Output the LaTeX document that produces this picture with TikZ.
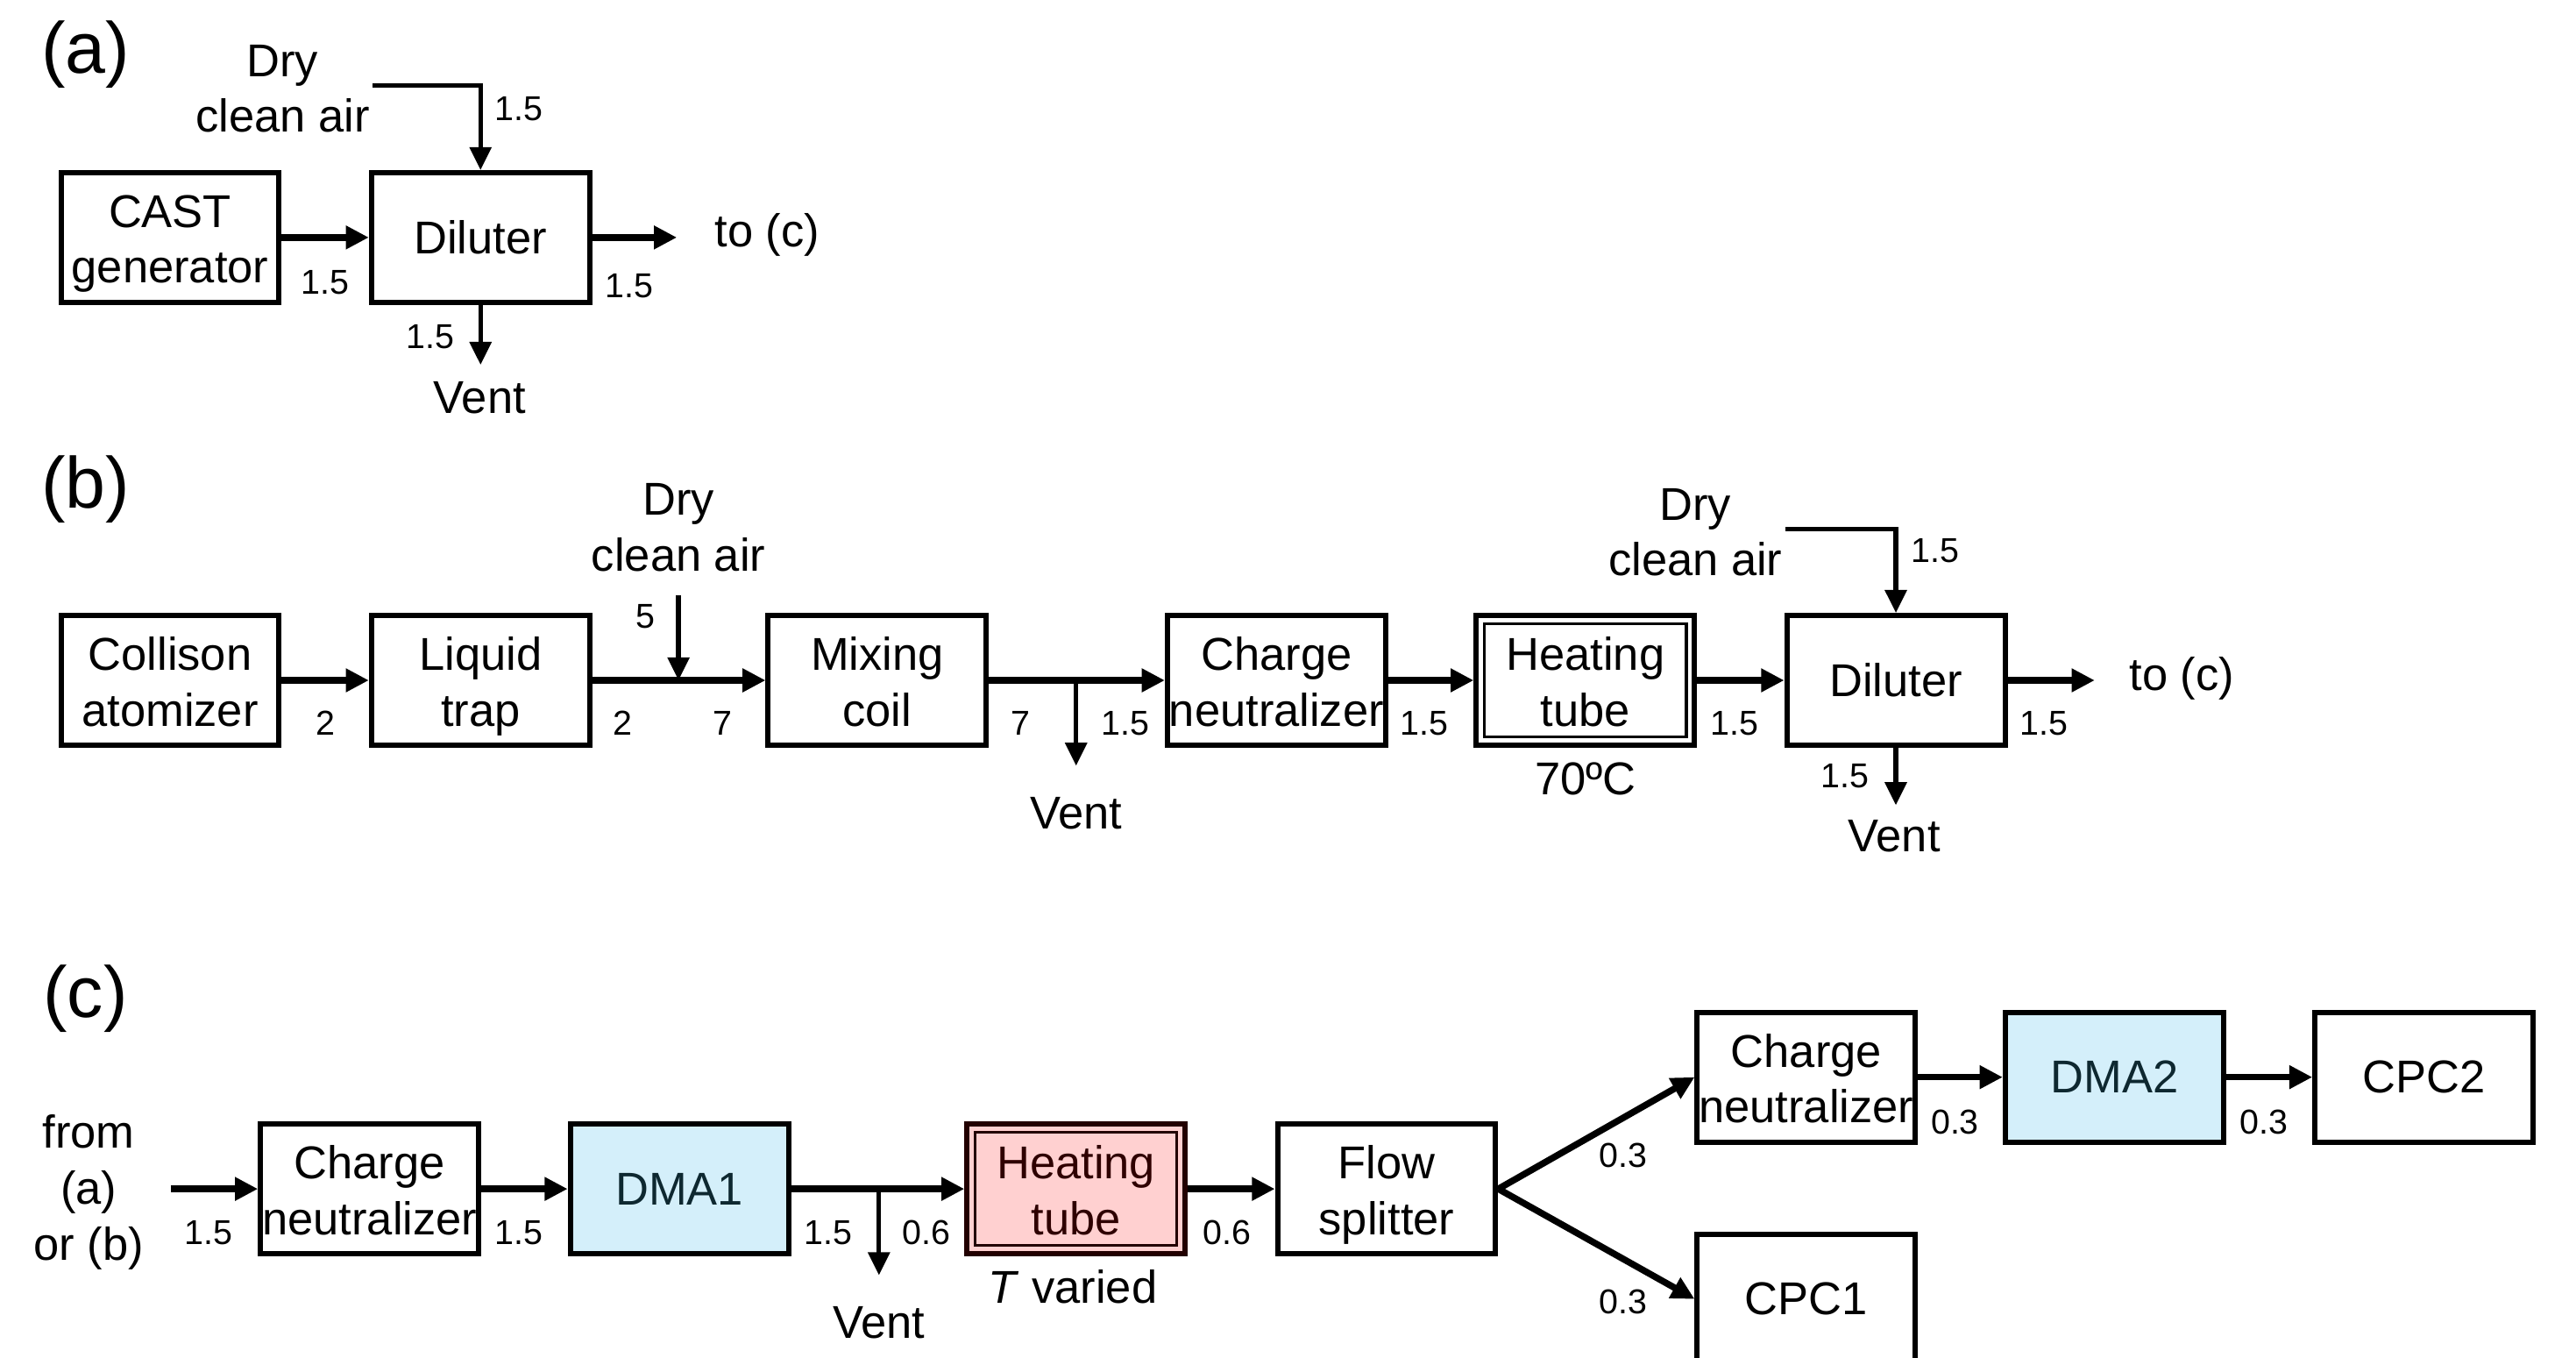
\documentclass[tikz,border=0pt]{standalone}
\usepackage{fontspec}
\setmainfont{Liberation Sans}
\usetikzlibrary{arrows.meta}
\newcommand{\fstr}{\rule[-5.1pt]{0pt}{21pt}}
\definecolor{dmablue}{HTML}{D4EFFA}
\definecolor{dmatext}{HTML}{0E2830}
\definecolor{heatfill}{HTML}{FFD0D0}
\definecolor{heatdraw}{HTML}{220000}
\definecolor{heattext}{HTML}{2E0000}
\tikzset{
  big/.style={font=\fontsize{14}{17}\selectfont, align=center, inner sep=0pt},
  num/.style={font=\fontsize{10.5}{12}\selectfont, inner sep=0pt},
  panel/.style={font=\fontsize{22}{26}\selectfont, inner sep=0pt},
  box/.style={draw, line width=1.6pt, minimum width=66.4pt, minimum height=39.4pt,
    inner sep=0pt, align=center, font=\fontsize{14}{17}\selectfont},
  dma/.style={box, fill=dmablue, text=dmatext},
  heatc/.style={box, fill=heatfill, draw=heatdraw, text=heattext},
  flow/.style={line width=2pt, -{Triangle[length=7pt,width=6.8pt]}},
  thin/.style={line width=1.4pt, -{Triangle[length=7pt,width=6.5pt]}},
  inner/.style={line width=0.9pt}
}
\begin{document}
\begin{tikzpicture}[x=0.5pt,y=-0.5pt]
\useasboundingbox (0,0) rectangle (1568,826);

% ---------------- (a)
\node[panel] (pa) at (52,33) {(a)};
\node[box] (cast) at (103.5,144.5) {CAST\fstr\\generator\strut};
\node[box] (dilA) at (292.5,144.5) {Diluter};
\node[big] (airA) at (172,54) {Dry\\clean air};
\coordinate (airAs) at (227,52);
\coordinate (toAc) at (412,144.5);
\node[big] (toA) at (467,143) {to (c)};
\coordinate (ventAe) at (292.5,222);
\node[big] (ventA) at (292,242) {Vent};
\draw[flow] (cast) -- (dilA);
\draw[thin] (airAs) -| (dilA.north);
\draw[flow] (dilA.east) -- (toAc);
\draw[thin] (dilA.south) -- (ventAe);
\node[num] (a1) at (316,66) {1.5};
\node[num] (a2) at (198,172) {1.5};
\node[num] (a3) at (383,174) {1.5};
\node[num] (a4) at (262,205) {1.5};

% ---------------- (b)
\node[panel] (pb) at (52,298) {(b)};
\node[box] (coll) at (103.5,414) {Collison\fstr\\atomizer\strut};
\node[box] (trap) at (292.5,414) {Liquid\fstr\\trap\strut};
\node[box] (mix) at (534,414) {Mixing\fstr\\coil\strut};
\node[box] (cnB) at (777,414) {Charge\fstr\\neutralizer\strut};
\node[box] (htB) at (965,414) {Heating\fstr\\tube\strut};
\draw[inner] ([shift={(3.3pt,-3.3pt)}]htB.north west) rectangle ([shift={(-3.3pt,3.3pt)}]htB.south east);
\node[box] (dilB) at (1154,414) {Diluter};
\node[big] (airB1) at (413,321) {Dry\\clean air};
\coordinate (airB1s) at (413,362);
\coordinate (junB1) at (413,414);
\coordinate (ventB1s) at (655,414);
\coordinate (ventB1e) at (655,466);
\node[big] (ventB1) at (655,495) {Vent};
\node[big] (tempB) at (965,474) {70ºC};
\node[big] (airB2) at (1032,324) {Dry\\clean air};
\coordinate (airB2s) at (1087,322);
\coordinate (ventB2e) at (1154,490);
\node[big] (ventB2) at (1153,509) {Vent};
\coordinate (toBc) at (1275,414);
\node[big] (toB) at (1328,413) {to (c)};
\draw[flow] (coll) -- (trap);
\draw[flow] (trap) -- (mix);
\draw[thin] (airB1s) -- (junB1);
\draw[flow] (mix) -- (cnB);
\draw[thin] (ventB1s) -- (ventB1e);
\draw[flow] (cnB) -- (htB);
\draw[flow] (htB) -- (dilB);
\draw[thin] (airB2s) -| (dilB.north);
\draw[thin] (dilB.south) -- (ventB2e);
\draw[flow] (dilB.east) -- (toBc);
\node[num] (b1) at (198,440) {2};
\node[num] (b2) at (379,440) {2};
\node[num] (b3) at (440,440) {7};
\node[num] (b4) at (393,375) {5};
\node[num] (b5) at (621,440) {7};
\node[num] (b6) at (685,440) {1.5};
\node[num] (b7) at (867,440) {1.5};
\node[num] (b8) at (1056,440) {1.5};
\node[num] (b9) at (1178,335) {1.5};
\node[num] (b10) at (1123,472) {1.5};
\node[num] (b11) at (1244,440) {1.5};

% ---------------- (c)
\node[panel] (pc) at (52,608) {(c)};
\node[big] (from) at (54,726) {from\strut\\(a)\strut\\or (b)\strut};
\coordinate (fromS) at (104,723.5);
\node[box] (cnC) at (225,723.5) {Charge\fstr\\neutralizer\strut};
\node[dma] (dma1) at (413.5,723.5) {DMA1};
\node[heatc] (htC) at (655,723.5) {Heating\fstr\\tube\strut};
\draw[inner, draw=heatdraw] ([shift={(3.3pt,-3.3pt)}]htC.north west) rectangle ([shift={(-3.3pt,3.3pt)}]htC.south east);
\node[box] (split) at (844,723.5) {Flow\fstr\\splitter\strut};
\node[box] (cnC2) at (1099.5,655.5) {Charge\fstr\\neutralizer\strut};
\node[dma] (dma2) at (1287,655.5) {DMA2};
\node[box] (cpc2) at (1475.5,655.5) {CPC2};
\node[box] (cpc1) at (1099.5,790.5) {CPC1};
\coordinate (ventCs) at (535,723.5);
\coordinate (ventCe) at (535,776);
\node[big] (ventC) at (535,805) {Vent};
\node[big] (tvar) at (653,783) {\textit{T} varied};
\draw[flow] (fromS) -- (cnC);
\draw[flow] (cnC) -- (dma1);
\draw[flow] (dma1) -- (htC);
\draw[thin] (ventCs) -- (ventCe);
\draw[flow] (htC) -- (split);
\draw[flow] (split.east) -- (cnC2.west);
\draw[flow] (split.east) -- (cpc1.west);
\draw[flow] (cnC2) -- (dma2);
\draw[flow] (dma2) -- (cpc2);
\node[num] (c1) at (127,750) {1.5};
\node[num] (c2) at (316,750) {1.5};
\node[num] (c3) at (504,750) {1.5};
\node[num] (c4) at (564,750) {0.6};
\node[num] (c5) at (747,750) {0.6};
\node[num] (c6) at (988,703) {0.3};
\node[num] (c7) at (988,792) {0.3};
\node[num] (c8) at (1190,683) {0.3};
\node[num] (c9) at (1378,683) {0.3};
\end{tikzpicture}
\end{document}
